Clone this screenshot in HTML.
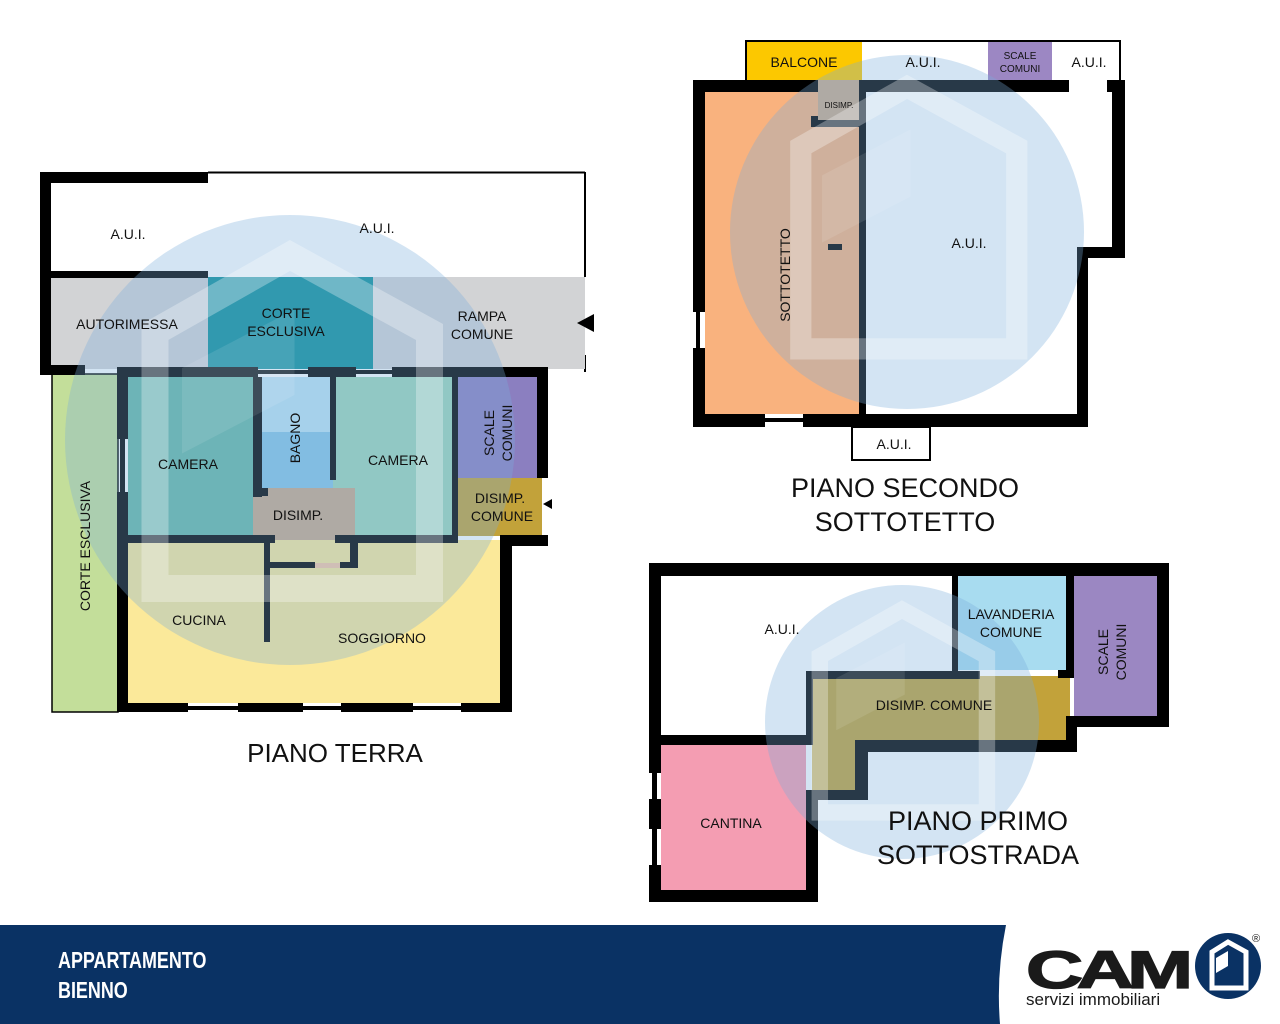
<!DOCTYPE html>
<html><head><meta charset="utf-8"><style>
html,body{margin:0;padding:0;background:#fff;}
svg{display:block;}
text{font-family:"Liberation Sans",sans-serif;}
</style></head><body>
<svg width="1280" height="1024" viewBox="0 0 1280 1024" xmlns="http://www.w3.org/2000/svg">
<defs>
<g id="wm">
  <circle cx="0" cy="0" r="100" fill="rgb(120,172,218)" fill-opacity="0.33"/>
  <path d="M0,-82 L62,-48 L62,66 L-60,66 L-60,-48 Z" fill="none" stroke="#fff" stroke-opacity="0.3" stroke-width="12"/>
  <path d="M-48,-32 L2,-58 L2,-20 L-48,6 Z" fill="#fff" fill-opacity="0.1"/>
</g>
</defs>

<!-- ============ PIANO TERRA ============ -->
<rect x="50" y="182" width="535" height="95" fill="#fff"/>
<line x1="208" y1="172.5" x2="585" y2="172.5" stroke="#000" stroke-width="2"/>
<line x1="585" y1="172" x2="585" y2="277" stroke="#000" stroke-width="2"/>
<line x1="585" y1="355" x2="585" y2="372" stroke="#000" stroke-width="2"/>
<rect x="50" y="277" width="158" height="92" fill="#d2d3d5"/>
<rect x="208" y="277" width="165" height="92" fill="#0e8f9a"/>
<rect x="373" y="277" width="212" height="92" fill="#d2d3d5"/>
<rect x="52" y="374" width="66" height="338" fill="#c3de9a" stroke="#000" stroke-width="1.5"/>
<rect x="128" y="377" width="125" height="160" fill="#67b8a6"/>
<rect x="262" y="377" width="71" height="55" fill="#bde3f3"/>
<rect x="262" y="432" width="71" height="56" fill="#87c5e6"/>
<rect x="333" y="377" width="119" height="160" fill="#9dd6b9"/>
<rect x="253" y="488" width="102" height="77" fill="#c9a98a"/>
<rect x="457" y="377" width="80" height="101" fill="#8b7fc0"/>
<rect x="457" y="478" width="85" height="58" fill="#c2a23a"/>
<rect x="128" y="540" width="372" height="163" fill="#fbe99a"/>
<rect x="315" y="563" width="25" height="5" fill="#f9c7a5"/>
<g fill="#000">
  <rect x="40" y="172" width="168" height="11"/>
  <rect x="40" y="172" width="11" height="202"/>
  <rect x="50" y="271" width="158" height="7"/>
  <rect x="40" y="365" width="45" height="10"/>
  <rect x="117" y="367" width="141" height="10"/>
  <rect x="258" y="370" width="50" height="4"/>
  <rect x="308" y="367" width="48" height="10"/>
  <rect x="356" y="370" width="36" height="4"/>
  <rect x="392" y="367" width="156" height="10"/>
  <rect x="117" y="367" width="11" height="72"/>
  <rect x="120" y="439" width="5" height="53"/>
  <rect x="117" y="492" width="11" height="220"/>
  <rect x="253" y="377" width="9" height="120"/>
  <rect x="253" y="488" width="15" height="8"/>
  <rect x="330" y="377" width="6" height="103"/>
  <rect x="128" y="535" width="147" height="8"/>
  <rect x="335" y="535" width="123" height="8"/>
  <rect x="452" y="377" width="6" height="166"/>
  <rect x="264" y="540" width="6" height="102"/>
  <rect x="268" y="562" width="47" height="6"/>
  <rect x="340" y="562" width="18" height="6"/>
  <rect x="350" y="540" width="8" height="28"/>
  <rect x="537" y="367" width="11" height="111"/>
  <rect x="500" y="535" width="48" height="11"/>
  <rect x="500" y="535" width="12" height="177"/>
  <rect x="117" y="703" width="71" height="9"/>
  <rect x="188" y="706" width="50" height="4"/>
  <rect x="238" y="703" width="65" height="9"/>
  <rect x="303" y="706" width="38" height="4"/>
  <rect x="341" y="703" width="72" height="9"/>
  <rect x="413" y="706" width="48" height="4"/>
  <rect x="461" y="703" width="51" height="9"/>
  <path d="M577,323 L594,314 L594,332 Z"/>
  <path d="M543,504 L552,499 L552,509 Z"/>
</g>
<use href="#wm" transform="translate(290,440) scale(2.25)"/>
<g font-size="14" fill="#111" text-anchor="middle">
  <text x="128" y="239">A.U.I.</text>
  <text x="377" y="233">A.U.I.</text>
  <text x="127" y="329">AUTORIMESSA</text>
  <text x="286" y="318">CORTE</text>
  <text x="286" y="336">ESCLUSIVA</text>
  <text x="482" y="321">RAMPA</text>
  <text x="482" y="339">COMUNE</text>
  <text x="188" y="469">CAMERA</text>
  <text x="398" y="465">CAMERA</text>
  <text x="298" y="520">DISIMP.</text>
  <text x="500" y="503">DISIMP.</text>
  <text x="502" y="521">COMUNE</text>
  <text x="199" y="625">CUCINA</text>
  <text x="382" y="643">SOGGIORNO</text>
  <text transform="translate(300,438) rotate(-90)">BAGNO</text>
  <text transform="translate(494,433) rotate(-90)">SCALE</text>
  <text transform="translate(512,433) rotate(-90)">COMUNI</text>
  <text transform="translate(90,546) rotate(-90)">CORTE ESCLUSIVA</text>
</g>
<text x="335" y="762" font-size="26" fill="#111" text-anchor="middle">PIANO TERRA</text>

<!-- ============ PIANO SECONDO ============ -->
<rect x="746" y="40" width="116" height="40" fill="#fcc800"/>
<rect x="988" y="40" width="64" height="40" fill="#9c87c3"/>
<path d="M746,80 L746,41 L1120,41 L1120,80" fill="none" stroke="#000" stroke-width="2"/>
<rect x="705" y="92" width="155" height="322" fill="#f9b27e"/>
<rect x="818" y="80" width="42" height="45" fill="#c9a98a"/>
<rect x="852" y="427" width="78" height="33" fill="#fff" stroke="#000" stroke-width="2"/>
<g fill="#000">
  <rect x="693" y="80" width="125" height="12"/>
  <rect x="860" y="80" width="209" height="12"/>
  <rect x="1107" y="80" width="18" height="12"/>
  <rect x="1112" y="80" width="13" height="178"/>
  <rect x="1077" y="247" width="48" height="11"/>
  <rect x="1077" y="247" width="11" height="180"/>
  <rect x="693" y="80" width="12" height="232"/>
  <rect x="696" y="312" width="4" height="36"/>
  <rect x="693" y="348" width="12" height="79"/>
  <rect x="693" y="414" width="72" height="13"/>
  <rect x="765" y="418" width="38" height="4"/>
  <rect x="803" y="414" width="285" height="13"/>
  <rect x="859" y="80" width="7" height="334"/>
  <rect x="811" y="120" width="51" height="7"/>
  <rect x="811" y="116" width="7" height="11"/>
  <rect x="828" y="244" width="14" height="6"/>
</g>
<use href="#wm" transform="translate(907,232) scale(1.77)"/>
<g font-size="14" fill="#111" text-anchor="middle">
  <text x="804" y="67">BALCONE</text>
  <text x="923" y="67">A.U.I.</text>
  <text x="1020" y="59" font-size="10">SCALE</text>
  <text x="1020" y="72" font-size="10">COMUNI</text>
  <text x="1089" y="67">A.U.I.</text>
  <text x="839" y="108" font-size="8">DISIMP.</text>
  <text x="969" y="248">A.U.I.</text>
  <text x="894" y="449">A.U.I.</text>
  <text transform="translate(790,275) rotate(-90)">SOTTOTETTO</text>
</g>
<text x="905" y="497" font-size="27" fill="#111" text-anchor="middle">PIANO SECONDO</text>
<text x="905" y="531" font-size="27" fill="#111" text-anchor="middle">SOTTOTETTO</text>

<!-- ============ PIANO PRIMO ============ -->
<rect x="958" y="576" width="108" height="94" fill="#a8dcf0"/>
<rect x="1074" y="576" width="83" height="140" fill="#9b87c2"/>
<path d="M812,676 L1070,676 L1070,740 L855,740 L855,795 L812,795 Z" fill="#c2a23a"/>
<rect x="661" y="745" width="145" height="145" fill="#f49db2"/>
<g fill="#000">
  <rect x="649" y="563" width="520" height="13"/>
  <rect x="1157" y="563" width="12" height="164"/>
  <rect x="649" y="563" width="12" height="210"/>
  <rect x="652" y="773" width="5" height="26"/>
  <rect x="649" y="799" width="12" height="30"/>
  <rect x="652" y="829" width="5" height="36"/>
  <rect x="649" y="865" width="12" height="37"/>
  <rect x="649" y="890" width="169" height="12"/>
  <rect x="952" y="576" width="6" height="96"/>
  <rect x="806" y="671" width="174" height="8"/>
  <rect x="1058" y="670" width="16" height="8"/>
  <rect x="1066" y="576" width="8" height="102"/>
  <rect x="806" y="671" width="7" height="66"/>
  <rect x="649" y="735" width="164" height="10"/>
  <rect x="855" y="740" width="222" height="12"/>
  <rect x="1066" y="716" width="103" height="11"/>
  <rect x="1066" y="716" width="11" height="36"/>
  <rect x="855" y="740" width="13" height="60"/>
  <rect x="806" y="790" width="62" height="10"/>
  <rect x="806" y="795" width="12" height="107"/>
</g>
<use href="#wm" transform="translate(902,722) scale(1.37)"/>
<g font-size="14" fill="#111" text-anchor="middle">
  <text x="782" y="634">A.U.I.</text>
  <text x="1011" y="619">LAVANDERIA</text>
  <text x="1011" y="637">COMUNE</text>
  <text x="934" y="710">DISIMP. COMUNE</text>
  <text x="731" y="828">CANTINA</text>
  <text transform="translate(1108,652) rotate(-90)">SCALE</text>
  <text transform="translate(1126,652) rotate(-90)">COMUNI</text>
</g>
<text x="978" y="830" font-size="27" fill="#111" text-anchor="middle">PIANO PRIMO</text>
<text x="978" y="864" font-size="27" fill="#111" text-anchor="middle">SOTTOSTRADA</text>

<!-- ============ FOOTER ============ -->
<path d="M0,925 L1006,925 Q996,975 1000,1024 L0,1024 Z" fill="#0a3264"/>
<text font-size="23" font-weight="bold" fill="#fff" style="font-family:'Liberation Sans Narrow','Liberation Sans',sans-serif" transform="translate(58,968) scale(0.78,1)">APPARTAMENTO</text>
<text font-size="23" font-weight="bold" fill="#fff" style="font-family:'Liberation Sans Narrow','Liberation Sans',sans-serif" transform="translate(58,998) scale(0.78,1)">BIENNO</text>
<text font-size="60" font-weight="bold" fill="#1a1a1a" letter-spacing="-5" transform="translate(1026,988) scale(1.32,0.88)" stroke="#1a1a1a" stroke-width="1.5">CAM</text>
<text transform="translate(1186,985) rotate(-90)" font-size="10" fill="#1a1a1a">S.r.l.</text>
<text x="1026" y="1005" font-size="17" fill="#1a1a1a">servizi immobiliari</text>
<circle cx="1228" cy="966" r="33" fill="#0a3264"/>
<path d="M1228,942 L1246,952 L1246,988 L1212,988 L1212,952 Z" fill="none" stroke="#fff" stroke-width="5"/>
<path d="M1216,958 L1228,951 L1228,966 L1216,973 Z" fill="#fff"/>
<text x="1252" y="942" font-size="11" fill="#1a1a1a">®</text>
</svg>
</body></html>
